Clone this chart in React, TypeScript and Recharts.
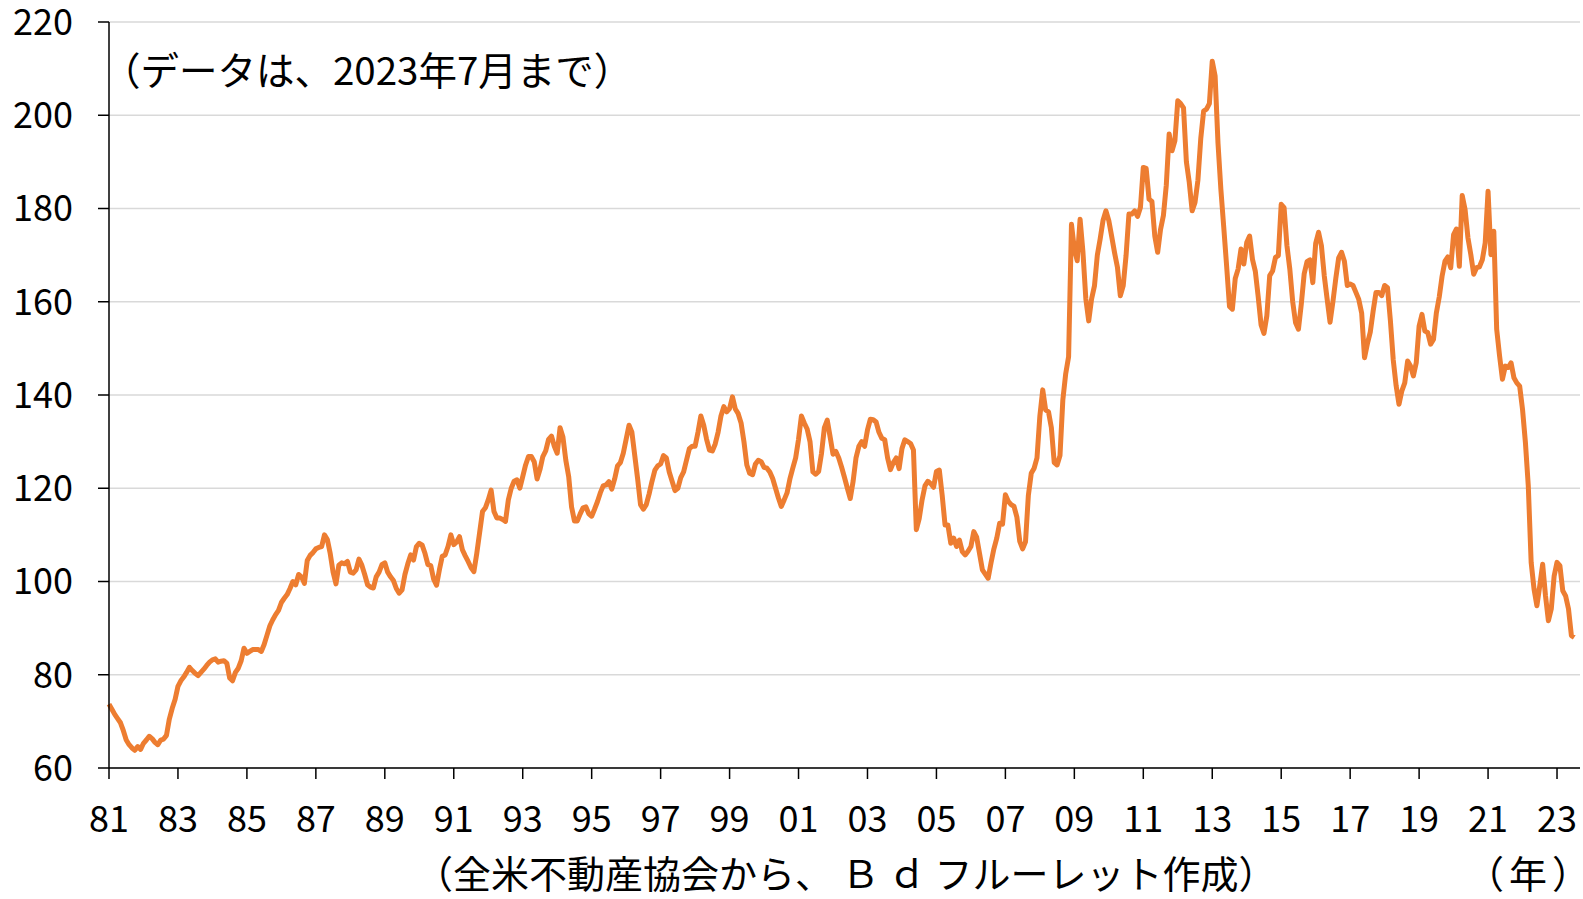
import { LineChart, Line, XAxis, YAxis, CartesianGrid } from 'recharts'

const FONT = '"Noto Sans CJK JP", "Noto Sans", sans-serif'

// 住宅購入能力指数 (monthly)
const hai1980s = [
  73.7, 72.6, 71.5, 70.6, 69.7, 68.0, 66.0, 65.0, 64.3, 63.8, 64.6, 64.0, // 1981
  65.3, 66.0, 66.8, 66.3, 65.5, 65.0, 66.0, 66.2, 67.0, 70.5, 72.8, 74.7, // 1982
  77.5, 78.7, 79.5, 80.5, 81.6, 80.9, 80.3, 79.8, 80.5, 81.2, 82.0, 82.7, // 1983
  83.2, 83.4, 82.7, 82.9, 83.0, 82.5, 79.3, 78.7, 80.5, 81.4, 83.0, 85.7, // 1984
  84.6, 85.0, 85.4, 85.4, 85.4, 85.0, 86.5, 88.5, 90.5, 91.8, 92.9, 93.8, // 1985
  95.5, 96.4, 97.2, 98.5, 100.0, 99.3, 101.5, 101.0, 99.6, 104.5, 105.6, 106.2, // 1986
  107.0, 107.3, 107.5, 110.0, 109.0, 106.0, 102.0, 99.5, 103.5, 104.0, 103.8, 104.3, // 1987
  102.0, 101.8, 102.5, 104.8, 103.5, 101.5, 99.3, 98.8, 98.6, 101.0, 102.0, 103.6, // 1988
  104.0, 102.0, 101.0, 100.2, 98.5, 97.5, 98.2, 101.5, 103.8, 105.7, 104.6, 107.5, // 1989
]

const hai1990s = [
  108.2, 107.8, 106.0, 103.6, 103.4, 100.5, 99.2, 102.5, 105.4, 105.7, 107.5, 110.0, // 1990
  107.9, 108.5, 109.6, 106.8, 105.5, 104.3, 103.0, 102.1, 106.0, 110.5, 115.0, 115.8, // 1991
  117.5, 119.6, 115.0, 113.6, 113.6, 113.3, 112.9, 117.5, 120.0, 121.5, 121.8, 120.0, // 1992
  122.5, 125.0, 126.8, 126.8, 125.7, 122.0, 124.0, 126.8, 128.0, 130.5, 131.2, 129.0, // 1993
  127.5, 133.0, 131.0, 126.0, 122.5, 116.0, 113.0, 113.0, 114.5, 115.8, 116.0, 114.5, // 1994
  114.0, 115.5, 117.1, 119.0, 120.5, 120.7, 121.4, 119.8, 122.0, 124.8, 125.5, 127.5, // 1995
  130.5, 133.5, 132.0, 127.0, 122.0, 116.5, 115.5, 116.5, 118.8, 121.5, 123.9, 124.8, // 1996
  125.2, 127.0, 126.5, 123.5, 121.5, 119.5, 120.0, 122.3, 123.5, 126.0, 128.5, 129.0, // 1997
  129.0, 132.0, 135.5, 133.5, 130.5, 128.2, 128.0, 129.5, 132.0, 135.5, 137.5, 136.4, // 1998
  137.1, 139.6, 137.0, 136.0, 134.0, 130.0, 125.0, 123.2, 122.9, 125.2, 126.0, 125.7, // 1999
]

const hai2000s = [
  124.5, 124.3, 123.5, 122.1, 120.0, 117.9, 116.1, 117.5, 119.0, 122.0, 124.3, 126.5, // 2000
  130.5, 135.5, 134.0, 132.7, 130.0, 123.5, 123.0, 123.6, 127.5, 133.0, 134.6, 131.0, // 2001
  127.3, 127.9, 126.5, 124.5, 122.3, 120.0, 117.8, 121.5, 126.5, 129.0, 130.0, 129.0, // 2002
  132.5, 134.8, 134.7, 134.2, 132.0, 130.7, 130.4, 126.5, 124.0, 125.5, 126.5, 124.2, // 2003
  128.5, 130.4, 130.0, 129.6, 128.2, 111.1, 113.5, 117.5, 120.5, 121.5, 121.0, 120.2, // 2004
  123.6, 123.9, 118.5, 112.1, 112.1, 108.2, 109.3, 107.5, 108.9, 106.4, 105.7, 106.5, // 2005
  107.5, 110.7, 109.5, 106.0, 102.5, 101.6, 100.7, 104.0, 107.0, 109.3, 112.5, 112.3, // 2006
  118.6, 117.2, 116.5, 116.1, 113.8, 108.6, 107.0, 108.5, 118.5, 123.2, 124.3, 126.5, // 2007
  135.5, 141.1, 136.8, 136.4, 133.0, 125.5, 125.0, 127.0, 139.0, 144.6, 148.2, 176.6, // 2008
  171.3, 168.8, 177.7, 170.6, 160.6, 155.9, 160.6, 163.4, 170.0, 173.5, 177.5, 179.5, // 2009
]

const hai2010s = [
  177.4, 174.0, 170.5, 167.4, 161.3, 163.4, 169.9, 178.8, 178.8, 179.5, 178.3, 180.2, // 2010
  188.8, 188.6, 182.0, 181.5, 174.1, 170.6, 175.5, 178.5, 185.0, 196.0, 192.4, 194.5, // 2011
  203.1, 202.5, 201.6, 190.0, 185.6, 179.5, 181.3, 186.0, 195.0, 200.9, 201.3, 202.5, // 2012
  211.6, 208.4, 194.0, 184.1, 176.0, 167.7, 159.0, 158.4, 165.0, 167.0, 171.3, 168.1, // 2013
  172.7, 174.1, 169.1, 166.5, 161.0, 155.0, 153.2, 157.0, 165.6, 166.6, 169.5, 169.9, // 2014
  180.9, 180.2, 172.0, 167.0, 160.0, 155.5, 154.1, 159.5, 166.0, 168.6, 169.0, 164.1, // 2015
  172.5, 174.9, 172.0, 165.5, 160.5, 155.6, 160.0, 165.0, 169.4, 170.6, 168.7, 163.5, // 2016
  163.8, 163.5, 162.0, 160.5, 157.6, 148.0, 151.0, 153.5, 158.0, 162.0, 162.0, 161.3, // 2017
  163.5, 163.0, 156.0, 147.5, 142.0, 138.0, 140.9, 142.6, 147.3, 146.2, 144.1, 146.9, // 2018
  154.8, 157.3, 153.7, 153.4, 150.9, 151.9, 157.6, 161.0, 165.5, 168.7, 169.6, 167.3, // 2019
]

const hai2020s = [
  174.4, 175.6, 167.6, 182.8, 179.8, 173.7, 170.1, 165.9, 167.3, 167.5, 169.0, 172.6, // 2020
  183.7, 170.1, 175.1, 154.1, 148.4, 143.4, 146.2, 145.9, 146.9, 143.7, 142.6, 141.9, // 2021
  136.9, 129.8, 120.5, 104.1, 98.4, 94.8, 99.1, 103.7, 96.9, 91.6, 94.1, 101.2, // 2022
  104.1, 103.4, 98.0, 96.9, 94.1, 88.4, 88.0, // 2023 (1-7月)
]

const FIRST_YEAR = 1981
const values = [...hai1980s, ...hai1990s, ...hai2000s, ...hai2010s, ...hai2020s]
const data = values.map((v, i) => ({ i, v }))

// 2年おきの目盛り (81, 83, ... 23)
const xTicks = Array.from({ length: 22 }, (_, k) => k * 24)
const yTicks = [60, 80, 100, 120, 140, 160, 180, 200, 220]

const yearLabel = (i: number) => String((FIRST_YEAR + Math.round(i / 12)) % 100).padStart(2, '0')

const axisStyle = { stroke: '#000', strokeWidth: 1.5 }
const tickStyle = { fill: '#000', fontSize: 36, fontFamily: FONT }
const noteStyle = { position: 'absolute' as const, fontSize: 38, lineHeight: 1, whiteSpace: 'nowrap' as const }

export default function App() {
  return (
    <div
      style={{
        position: 'absolute',
        left: 0,
        top: 0,
        width: 1583,
        height: 899,
        background: '#fff',
        fontFamily: FONT,
        color: '#000',
      }}
    >
      <LineChart width={1583} height={899} data={data} margin={{ top: 22, right: 3, bottom: 0, left: 0 }}>
        <CartesianGrid vertical={false} stroke="#d9d9d9" strokeWidth={1.5} />
        <XAxis
          type="number"
          dataKey="i"
          domain={[0, 512]}
          ticks={xTicks}
          interval={0}
          tickFormatter={yearLabel}
          height={131}
          axisLine={axisStyle}
          tickLine={axisStyle}
          tickSize={11}
          tickMargin={27}
          tick={tickStyle}
        />
        <YAxis
          domain={[60, 220]}
          ticks={yTicks}
          interval={0}
          width={109}
          axisLine={axisStyle}
          tickLine={axisStyle}
          tickSize={11}
          tickMargin={25}
          tick={tickStyle}
        />
        <Line
          type="linear"
          dataKey="v"
          stroke="#ED7D31"
          strokeWidth={5}
          strokeLinejoin="round"
          dot={false}
          activeDot={false}
          isAnimationActive={false}
        />
      </LineChart>
      <div style={{ ...noteStyle, left: 102, top: 49, fontSize: 38.5 }}>（データは、2023年7月まで）</div>
      <div style={{ ...noteStyle, left: 415, top: 853 }}>（全米不動産協会から、 Ｂ ｄ フルーレット作成）</div>
      <div style={{ ...noteStyle, left: 1466, top: 853 }}>
        <span style={{ letterSpacing: 5 }}>（年</span>
        <span style={{ fontFeatureSettings: '"halt"' }}>）</span>
      </div>
    </div>
  )
}
